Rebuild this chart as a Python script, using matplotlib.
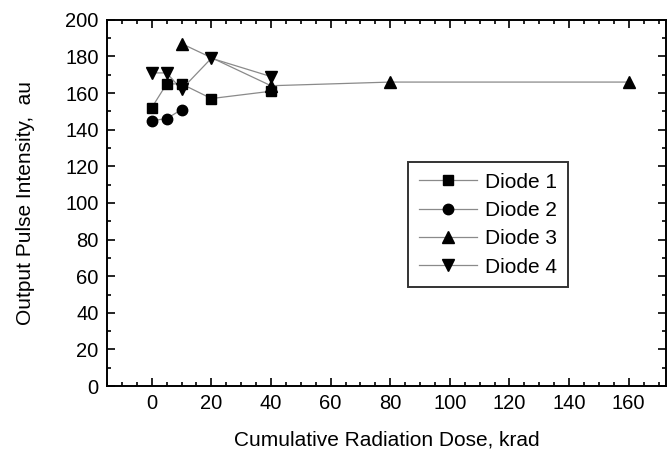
import matplotlib
matplotlib.use("Agg")
import matplotlib.pyplot as plt
from matplotlib.ticker import MultipleLocator

plt.rcParams['font.family'] = ['Liberation Sans', 'DejaVu Sans']

# data
dose_1 = [0, 5, 10, 20, 40]
diode_1 = [152, 165, 165, 157, 161]
dose_2 = [0, 5, 10]
diode_2 = [145, 146, 151]
dose_3 = [10, 40, 80, 160]
diode_3 = [187, 164, 166, 166]
dose_4 = [0, 5, 10, 20, 40]
diode_4 = [171, 171, 162, 179, 169]

fig = plt.figure(figsize=(6.71, 4.5), dpi=100)
ax = fig.add_axes([0.1595, 0.142, 0.833, 0.814])

line_kw = dict(color='#8a8a8a', lw=0.9, mfc='black', mec='black')
ax.plot(dose_1, diode_1, marker='s', ms=7, label='Diode 1', **line_kw)
ax.plot(dose_2, diode_2, marker='o', ms=7.5, label='Diode 2', **line_kw)
ax.plot(dose_3, diode_3, marker='^', ms=8.5, label='Diode 3', **line_kw)
ax.plot(dose_4, diode_4, marker='v', ms=8.5, label='Diode 4', **line_kw)

ax.set_xlim(-15, 172.5)
ax.set_ylim(0, 200)
ax.xaxis.set_major_locator(MultipleLocator(20))
ax.xaxis.set_minor_locator(MultipleLocator(5))
ax.yaxis.set_major_locator(MultipleLocator(20))
ax.yaxis.set_minor_locator(MultipleLocator(10))
ax.tick_params(which='both', direction='in', top=True, right=True, width=1.2)
ax.tick_params(which='major', length=6, labelsize=14.5, pad=6)
ax.tick_params(which='minor', length=3)
for s in ax.spines.values():
    s.set_linewidth(1.4)

ax.set_xlabel('Cumulative Radiation Dose, krad', fontsize=15, labelpad=12)
ax.set_ylabel('Output Pulse Intensity,  au', fontsize=15, labelpad=22)

leg = ax.legend(loc='upper left', bbox_to_anchor=(0.52, 0.64), fontsize=15,
                frameon=True, fancybox=False, edgecolor='black',
                handlelength=2.8, handletextpad=0.4, labelspacing=0.45,
                borderpad=0.5)
leg.get_frame().set_linewidth(1.4)

fig.savefig('out.png', dpi=100)
